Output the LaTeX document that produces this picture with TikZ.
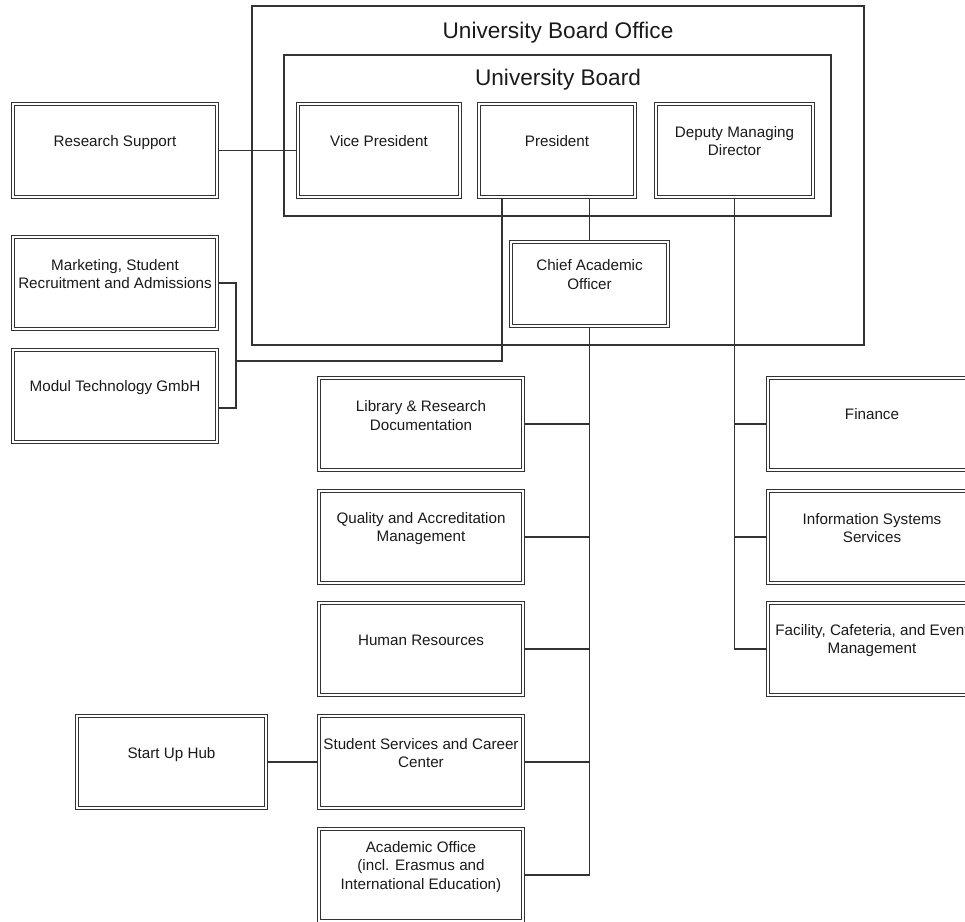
\documentclass[tikz,border=0pt]{standalone}
\usepackage{fontspec}
\setmainfont{Liberation Sans}
\usetikzlibrary{backgrounds}
\definecolor{ln}{HTML}{333333}
\definecolor{tx}{HTML}{1A1A1A}
\tikzset{
 dbox/.style={draw=ln, double=white, double distance=1.9pt, line width=1.25pt, fill=white, rectangle, inner sep=0pt},
 btext/.style={text=tx, align=center, font=\fontsize{15.2}{18.5}\selectfont, inner sep=0pt},
 frame/.style={draw=ln, line width=1.4pt},
 ttl/.style={text=tx, font=\fontsize{22.6}{26}\selectfont, inner sep=0pt},
 conn/.style={draw=ln, line width=1.2pt},
}
\newcommand\obox[7]{%
 \node[dbox, minimum width={(#4)-(#2)-4}, minimum height={(#5)-(#3)-4}] (#1) at ({((#2)+(#4))/2},{((#3)+(#5))/2}) {};
 \node[btext] (#1t) at ([yshift={-(#7)*1pt}]#1.north) {#6};
}
\begin{document}
\begin{tikzpicture}[x=1pt,y=-1pt]
\useasboundingbox (0,0) rectangle (965,921);
% frames
\node[frame, minimum width=612pt, minimum height=339pt, inner sep=0pt] (ubo) at (558,175.5) {};
\node[ttl] (ubot) at (558,33) {University Board Office};
\node[frame, minimum width=547pt, minimum height=161pt, inner sep=0pt] (ub) at (557.5,135.5) {};
\node[ttl] (ubt) at (558,80) {University Board};
% boxes
\obox{rs}{11}{102}{219}{199}{Research Support}{39.5}
\obox{vp}{296}{102}{462}{199}{Vice President}{37.5}
\obox{pres}{477}{102}{637}{199}{President}{37.5}
\obox{dep}{654}{102}{815}{199}{Deputy Managing\\Director}{37.5}
\obox{mkt}{11}{235}{219}{331}{Marketing, Student\\Recruitment and Admissions}{37.5}
\obox{mod}{11}{348}{219}{444}{Modul Technology GmbH}{38.5}
\obox{cao}{509}{240}{670}{328}{Chief Academic\\Officer}{33}
\obox{lib}{317}{376}{525}{472}{Library \& Research\\Documentation}{38}
\obox{qam}{317}{489}{525}{585}{Quality and Accreditation\\Management}{38}
\obox{hr}{317}{601}{525}{697}{Human Resources}{37.5}
\obox{ss}{317}{714}{525}{810}{Student Services and Career\\Center}{37.5}
\obox{acad}{317}{827}{525}{923}{Academic Office\\(incl. Erasmus and\\International Education)}{38.5}
\obox{suh}{75}{714}{268}{810}{Start Up Hub}{39.5}
\obox{fin}{766}{376}{978}{472}{Finance}{36.5}
\obox{iss}{766}{489}{978}{585}{Information Systems\\Services}{37.5}
\obox{fac}{766}{601}{978}{697}{Facility, Cafeteria, and Event\\Management}{38}
% connectors
\coordinate (brk) at (236,361);
\coordinate (modc) at ([yshift=-12pt]mod.east);
\begin{scope}[on background layer]
\draw[conn] (rs.east) -- (vp.west);
\draw[conn] ([xshift=-55pt]pres.south) |- (brk);
\draw[conn] (mkt.east) -- (brk |- mkt.east) -- (brk |- modc) -- (modc);
\draw[conn] (cao.north) -- (cao.north |- pres.south);
\draw[conn] (cao.south) |- (acad.east);
\draw[conn] (lib.east) -- (lib.east -| cao.south);
\draw[conn] (qam.east) -- (qam.east -| cao.south);
\draw[conn] (hr.east) -- (hr.east -| cao.south);
\draw[conn] (ss.east) -- (ss.east -| cao.south);
\draw[conn] (suh.east) -- (ss.west);
\draw[conn] (dep.south) |- (fac.west);
\draw[conn] (fin.west) -- (fin.west -| dep.south);
\draw[conn] (iss.west) -- (iss.west -| dep.south);
\end{scope}
\end{tikzpicture}
\end{document}
